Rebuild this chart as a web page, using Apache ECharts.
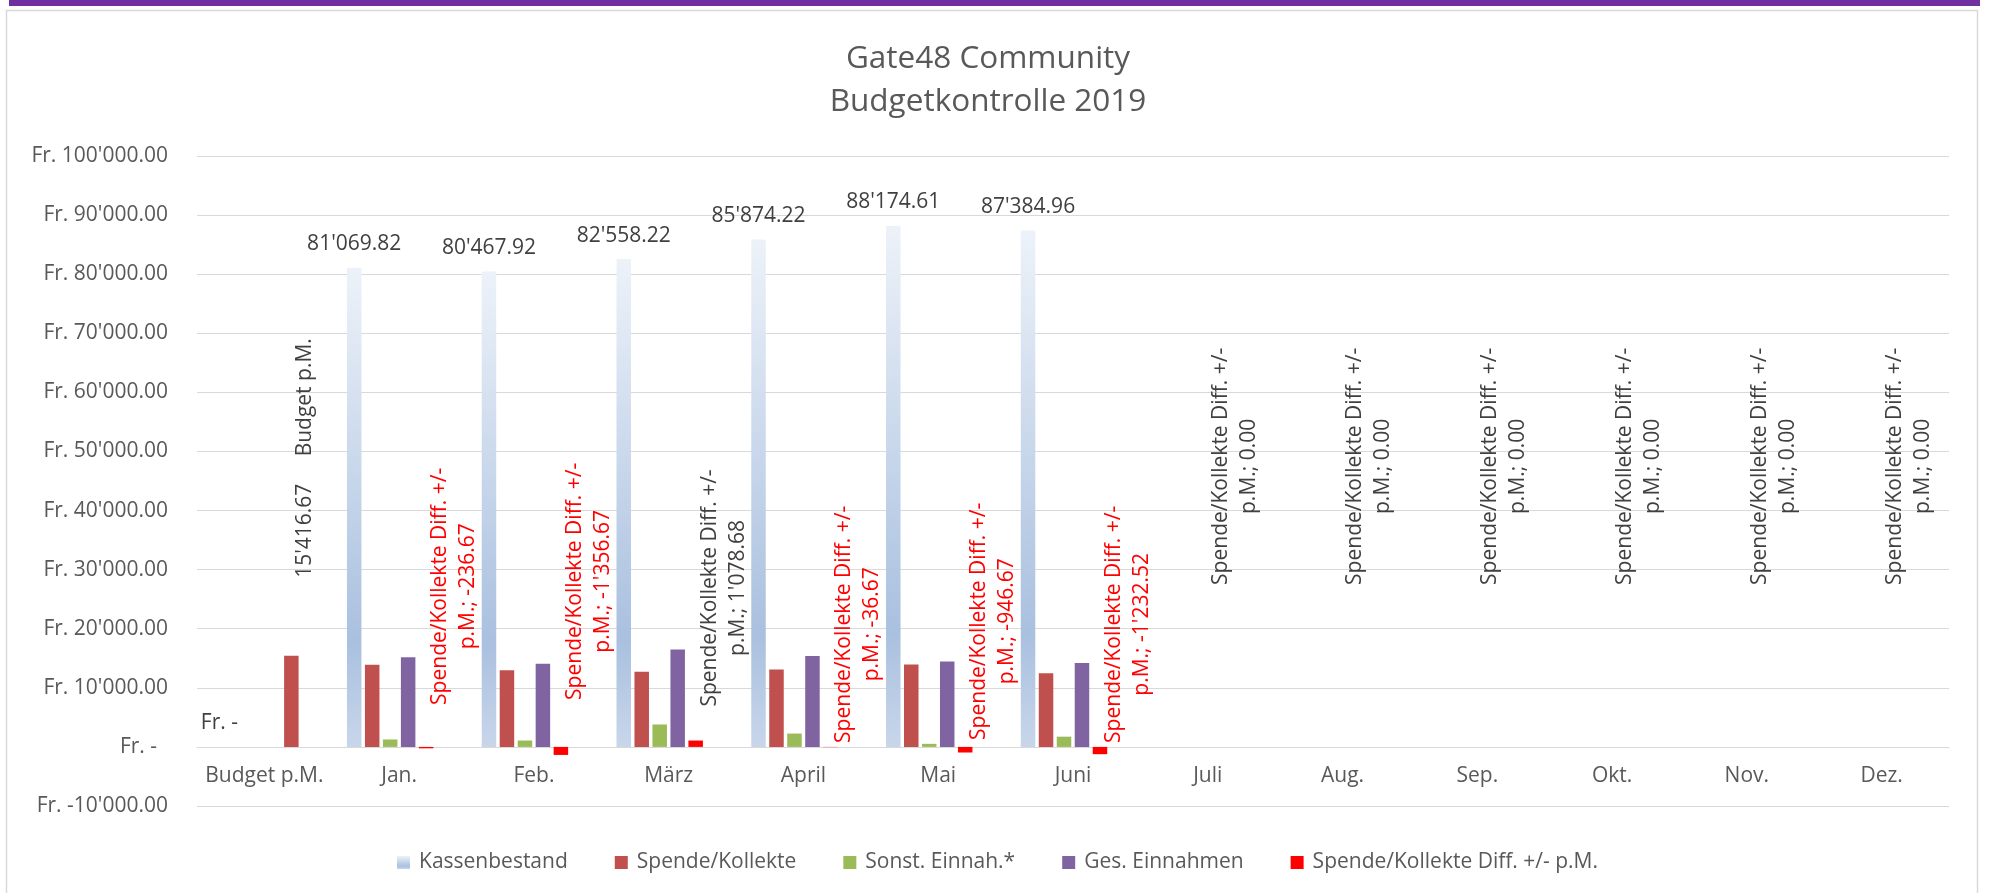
<!DOCTYPE html>
<html>
<head>
<meta charset="utf-8">
<script src="https://cdn.jsdelivr.net/npm/echarts@6/dist/echarts.min.js"></script>
<style>
html,body{margin:0;padding:0;background:#fff;}
#chart{width:1995px;height:893px;}
</style>
</head>
<body>
<div id="chart"></div>
<script>
// ---------- data ----------
const categories = ['Budget p.M.', 'Jan.', 'Feb.', 'März', 'April', 'Mai', 'Juni', 'Juli', 'Aug.', 'Sep.', 'Okt.', 'Nov.', 'Dez.'];
const seriesNames = ['Kassenbestand', 'Spende/Kollekte', 'Sonst. Einnah.*', 'Ges. Einnahmen', 'Spende/Kollekte Diff. +/- p.M.'];
const kassenbestand = [0, 81069.82, 80467.92, 82558.22, 85874.22, 88174.61, 87384.96, null, null, null, null, null, null];
const spendeKollekte = [null, 13920.00, 12980.00, 12700.00, 13120.00, 13950.00, 12450.00, null, null, null, null, null, null];
const sonstEinnahmen = [null, 1260.00, 1080.00, 3795.35, 2260.00, 520.00, 1734.15, null, null, null, null, null, null];
const gesEinnahmen = [null, 15180.00, 14060.00, 16495.35, 15380.00, 14470.00, 14184.15, null, null, null, null, null, null];
const diffPM = [15416.67, -236.67, -1356.67, 1078.68, -36.67, -946.67, -1232.52, 0, 0, 0, 0, 0, 0];
const yMin = -10000, yMax = 100000, yStep = 10000;

// label layout (Excel placed these labels individually): lift above bar in px, centred on bar or not
const diffLabelLift = [78, 42, 47, 34, 4, 7, 4, 162, 162, 162, 162, 162, 162];
const diffLabelCentred = [false, false, false, false, false, false, false, true, true, true, true, true, true];

// ---------- helpers ----------
function fmt(v) {
  const s = Math.abs(v).toFixed(2);
  const parts = s.split('.');
  const ip = parts[0].replace(/\B(?=(\d{3})+(?!\d))/g, "'");
  return (v < 0 ? '-' : '') + ip + '.' + parts[1];
}
const FONT = '"Open Sans", "Noto Sans", sans-serif';
const mctx = document.createElement('canvas').getContext('2d');
function textW(t, size) {
  mctx.font = size + 'px "Open Sans"';
  return Math.max.apply(null, t.split('\n').map(l => mctx.measureText(l).width));
}

const colors = {
  spende: '#C0504D', sonst: '#9BBB59', ges: '#8064A2', diff: '#FF0000'
};
const kassGradient = new echarts.graphic.LinearGradient(0, 0, 0, 1, [
  { offset: 0, color: '#edf2f9' },
  { offset: 0.78, color: '#a9c0df' },
  { offset: 1, color: '#c8d6ea' }
]);

const BW = 14.5, GAP = '24%';
const LBL = 21;
const GRID = { left: 197, right: 46, top: 156, bottom: 87 };
const gridH = 893 - GRID.top - GRID.bottom;
// category axis crosses the value axis at 0
const xAxisOffset = -gridH * (0 - yMin) / (yMax - yMin);

const diffData = diffPM.map((v, i) => {
  const text = i === 0 ? (fmt(v) + '     ' + categories[0]) : ('Spende/Kollekte Diff. +/-\np.M.; ' + fmt(v));
  const half = textW(text, LBL) / 2;
  const item = {
    value: v,
    label: {
      show: true,
      position: 'top',
      rotate: 90,
      align: 'center',
      verticalAlign: diffLabelCentred[i] ? 'middle' : 'top',
      distance: diffLabelLift[i] + half,
      formatter: text,
      color: v < 0 ? '#FF0000' : '#404040',
      fontSize: LBL,
      lineHeight: 28,
      fontFamily: FONT
    }
  };
  if (i === 0) item.itemStyle = { color: colors.spende };
  return item;
});

const chart = echarts.init(document.getElementById('chart'), null, { renderer: 'canvas' });
chart.setOption({
  animation: false,
  textStyle: { fontFamily: FONT },
  graphic: [
    { type: 'rect', silent: true, z: -10, shape: { x: 9, y: 0, width: 1971, height: 6 }, style: { fill: '#7030A0' } },
    { type: 'rect', silent: true, z: -10, shape: { x: 6.5, y: 10.5, width: 1971, height: 900 }, style: { fill: 'none', stroke: '#d9d9d9', lineWidth: 1.5 } }
  ],
  title: {
    text: 'Gate48 Community\nBudgetkontrolle 2019',
    left: 983,
    textAlign: 'center',
    top: 33,
    textStyle: { fontSize: 31.5, fontWeight: 'normal', color: '#595959', lineHeight: 43, fontFamily: FONT }
  },
  legend: {
    data: seriesNames,
    top: 847,
    left: 'center',
    itemWidth: 13,
    itemHeight: 13,
    itemGap: 47,
    icon: 'rect',
    textStyle: { fontSize: 21, color: '#595959', fontFamily: FONT, padding: [0, 0, 0, 4] }
  },
  grid: { left: GRID.left, right: GRID.right, top: GRID.top, bottom: GRID.bottom, containLabel: false },
  xAxis: {
    type: 'category',
    data: categories,
    position: 'bottom',
    offset: xAxisOffset,
    axisLine: { show: true, onZero: false, lineStyle: { color: '#d9d9d9', width: 1 } },
    axisTick: { show: false },
    axisLabel: { interval: 0, fontSize: 21, color: '#595959', margin: 19, fontFamily: FONT },
    splitLine: { show: false }
  },
  yAxis: {
    type: 'value',
    min: yMin,
    max: yMax,
    interval: yStep,
    axisLine: { show: false },
    axisTick: { show: false },
    splitLine: { lineStyle: { color: '#d9d9d9', width: 1 } },
    axisLabel: {
      fontSize: 21, color: '#595959', margin: 29, fontFamily: FONT,
      formatter: v => v === 0 ? 'Fr. -  ' : 'Fr. ' + fmt(v)
    }
  },
  series: [
    {
      name: seriesNames[0], type: 'bar', barWidth: BW, barGap: GAP,
      data: kassenbestand,
      itemStyle: { color: kassGradient },
      label: {
        show: true, position: 'top', distance: 13, fontSize: 21, color: '#404040', fontFamily: FONT,
        formatter: p => p.value === 0 ? 'Fr. -' : fmt(p.value)
      }
    },
    { name: seriesNames[1], type: 'bar', barWidth: BW, barGap: GAP, data: spendeKollekte, itemStyle: { color: colors.spende } },
    { name: seriesNames[2], type: 'bar', barWidth: BW, barGap: GAP, data: sonstEinnahmen, itemStyle: { color: colors.sonst } },
    { name: seriesNames[3], type: 'bar', barWidth: BW, barGap: GAP, data: gesEinnahmen, itemStyle: { color: colors.ges } },
    { name: seriesNames[4], type: 'bar', barWidth: BW, barGap: GAP, data: diffData, itemStyle: { color: colors.diff } },
    { name: '', type: 'bar', barWidth: BW, barGap: GAP, data: categories.map(() => null) }
  ]
});
</script>
</body>
</html>
